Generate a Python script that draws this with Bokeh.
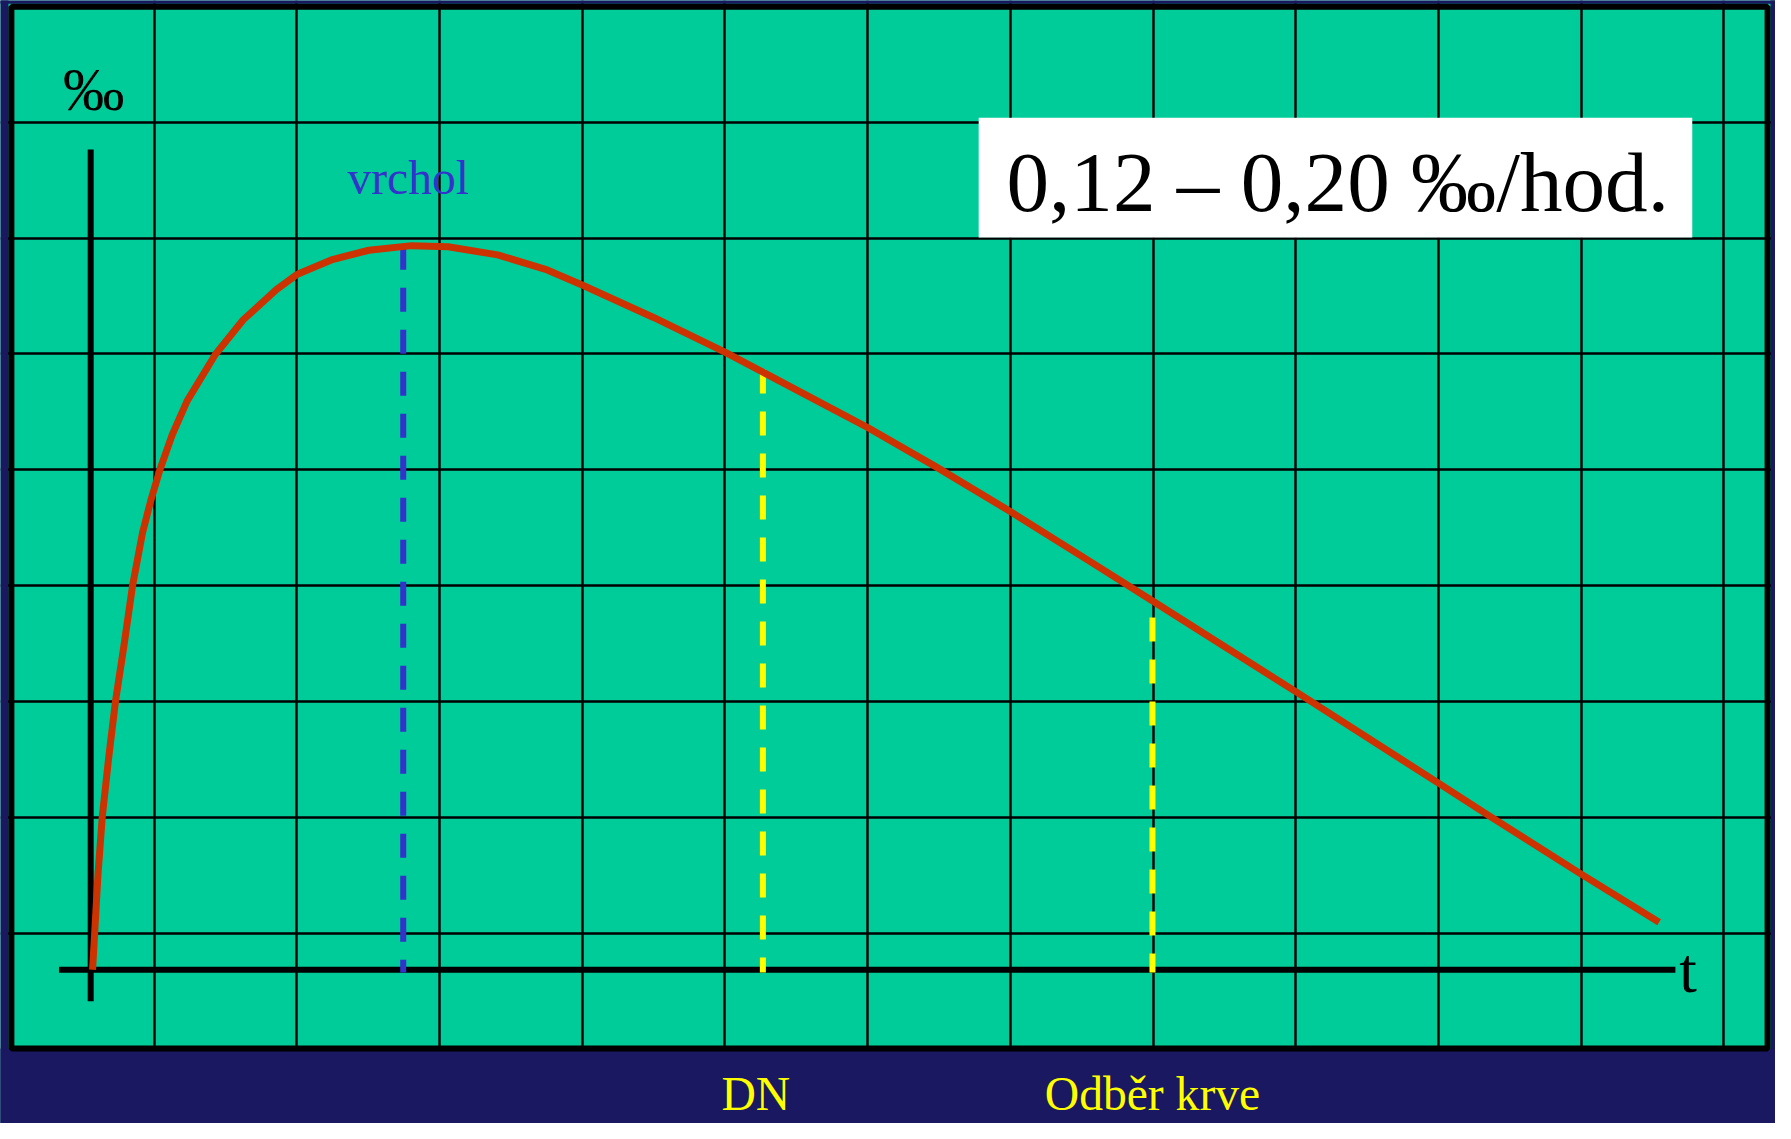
from bokeh.plotting import figure
from bokeh.models import Range1d, Grid, FixedTicker, Label
from bokeh.embed import file_html
from bokeh.resources import INLINE

# ---------------- data ----------------
# time in grid columns from the origin, concentration in grid rows above the t axis
curve_t = [0.013, 0.028, 0.051, 0.081, 0.127, 0.174, 0.231, 0.294, 0.363, 0.421,
           0.486, 0.572, 0.676, 0.873, 1.069, 1.301, 1.444, 1.694, 1.949, 2.25,
           2.505, 2.852, 3.199, 3.444, 3.944, 4.444, 4.707, 5.444, 5.924, 6.444,
           7.007, 7.444, 7.701, 8.444, 9.444, 9.797, 10.444, 10.99]
curve_v = [0.0, 0.32, 0.82, 1.32, 1.84, 2.32, 2.78, 3.32, 3.77, 4.05,
           4.32, 4.62, 4.91, 5.31, 5.61, 5.87, 6.00, 6.13, 6.21, 6.25,
           6.24, 6.17, 6.04, 5.91, 5.63, 5.33, 5.16, 4.68, 4.34, 3.955,
           3.52, 3.18, 2.98, 2.40, 1.61, 1.33, 0.825, 0.41]

marker_names = ["vrchol", "DN", "Odběr krve"]
marker_t = [2.19, 4.71, 7.44]
marker_top = [6.25, 5.18, 3.04]
marker_colors = ["#3333CC", "#FFFF00", "#FFFF00"]

rate_text = "0,12 – 0,20 ‰/hod."
y_unit = "‰"
x_unit = "t"

# ---------------- layout ----------------
W, H = 1775, 1123          # figure size
RW, RH = 1791.0, 1139.0    # slide size the layout below is measured in
X0, Y0 = 91.0, 983.0       # slide pixel of the origin
SX, SY = 144.0, 117.5      # slide pixels per grid column / row
K = W / RW                 # font scale


def tx(px):
    return (px - X0) / SX


def vy(py):
    return (Y0 - py) / SY


def base(py, fs):
    # alphabetic baseline at slide pixel py for a font of size fs
    return vy(py - 0.34 * fs)


NAVY = "#1a1860"
GREEN = "#00CC99"
RED = "#CC3300"
FONT = "Liberation Serif"

p = figure(width=W, height=H, output_backend="svg", toolbar_location=None,
           x_range=Range1d(tx(0), tx(RW)), y_range=Range1d(vy(RH), vy(0)),
           x_axis_type=None, y_axis_type=None, min_border=0)
p.background_fill_color = GREEN
p.border_fill_color = NAVY
p.outline_line_color = None

# grid of the slide
p.add_layout(Grid(dimension=0, ticker=FixedTicker(ticks=[tx(155 + 144 * k) for k in range(12)]),
                  grid_line_color="black", grid_line_width=2.4))
p.add_layout(Grid(dimension=1, ticker=FixedTicker(ticks=[vy(945.9 - 117.5 * k) for k in range(8)]),
                  grid_line_color="black", grid_line_width=2.4))

# navy surround and the panel frame
xl, xr, yt, yb = tx(-5), tx(RW + 5), vy(-5), vy(RH + 5)
p.quad(left=[xl, xl, tx(1786), xl], right=[tx(8), xr, xr, xr],
       top=[yt, yt, yt, vy(1063)], bottom=[yb, vy(3.3), yb, yb],
       fill_color=NAVY, line_color=None)
p.quad(left=tx(11), right=tx(1783), top=vy(6.3), bottom=vy(1063),
       fill_color=None, line_color="black", line_width=6)

# white box
p.quad(left=tx(987), right=tx(1707), top=vy(119), bottom=vy(240.5),
       fill_color="white", line_color=None)

# axes
p.segment(x0=[0], y0=[vy(1015)], x1=[0], y1=[vy(151)], line_color="black", line_width=6)
p.segment(x0=[tx(59)], y0=[0], x1=[tx(1690)], y1=[0], line_color="black", line_width=6)

# dashed marker lines
for t, top, c in zip(marker_t, marker_top, marker_colors):
    p.segment(x0=[t], y0=[top], x1=[t], y1=[-0.025], line_color=c, line_width=6,
              line_dash="24 18", line_cap="butt")

# curve
p.line(curve_t, curve_v, line_color=RED, line_width=7, line_join="round", line_cap="butt")


def add_text(x, py, text, fs, color, align="left", dx=0):
    p.add_layout(Label(x=x, y=base(py, fs), x_offset=dx, text=text, text_font=FONT,
                       text_font_size=f"{fs * K:.1f}px", text_color=color,
                       text_align=align, text_baseline="alphabetic"))


add_text(tx(63), 111, y_unit, 62, "black")
add_text(tx(1694), 1006, x_unit, 64, "black")
add_text(tx(1015), 213, rate_text, 86, "black")

label_dx = [5, -7, 0]
label_py = [196, 1125, 1125]
for name, t, c, dx, py in zip(marker_names, marker_t, marker_colors, label_dx, label_py):
    add_text(t, py, name, 48, c, align="center", dx=dx)

open("out.html", "w").write(file_html(p, INLINE))
